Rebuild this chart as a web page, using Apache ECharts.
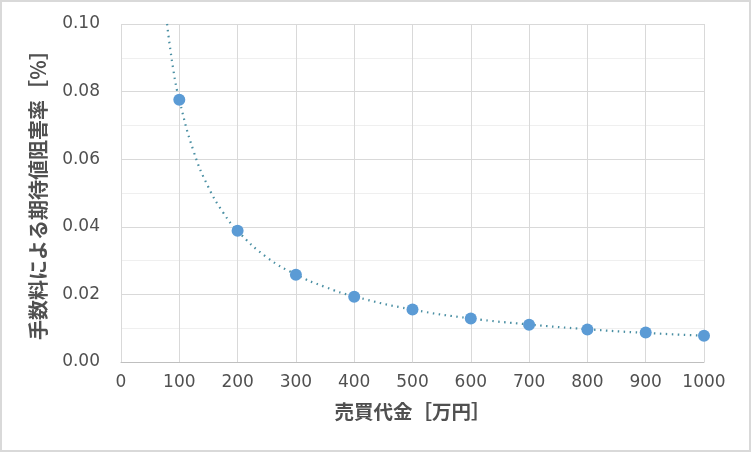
<!DOCTYPE html>
<html><head><meta charset="utf-8">
<script src="https://cdn.jsdelivr.net/npm/echarts@6/dist/echarts.min.js"></script>
<style>html,body{margin:0;padding:0;background:#fff}#c{width:751px;height:452px;box-sizing:border-box;border:2px solid #d9d9d9}</style>
</head><body><div id="c"></div>
<script>
const xValues = [100,200,300,400,500,600,700,800,900,1000];
const yValues = [0.0776,0.0388,0.0258,0.0193,0.0155,0.0129,0.0110,0.0096,0.0087,0.0078];
const trendX = [79,90,100,125,150,175,200,250,300,350,400,500,600,700,800,900,1000];
const trendY = [0.1,0.0862,0.0776,0.0621,0.0517,0.0443,0.0388,0.0310,0.0259,0.0222,0.0194,0.0155,0.0129,0.0111,0.0097,0.0086,0.0078];
const xTitle = '売買代金［万円］';
const yTitle = '手数料による期待値阻害率［％］';

const chart = echarts.init(document.getElementById('c'));
const font = 'Noto Sans CJK JP';
chart.setOption({
  animation:false,
  grid:{left:119,right:45,top:22,bottom:88},
  xAxis:{type:'value',min:0,max:1000,interval:100,
    name:xTitle,nameLocation:'middle',nameGap:40,
    nameTextStyle:{color:'#505050',fontSize:19.5,fontWeight:'bold',fontFamily:font},
    axisLine:{lineStyle:{color:'#bfbfbf'}},axisTick:{show:false},
    axisLabel:{color:'#505050',fontSize:17,fontFamily:'DejaVu Sans',margin:12,formatter:v=>String(v)},
    splitLine:{lineStyle:{color:'#d9d9d9'}}},
  yAxis:{type:'value',min:0,max:0.1,interval:0.02,
    name:yTitle,nameLocation:'middle',nameGap:73,
    nameTextStyle:{color:'#505050',fontSize:20,fontWeight:'bold',fontFamily:font,padding:[0,0,0,6]},
    axisLine:{show:false},axisTick:{show:false},
    axisLabel:{color:'#505050',fontSize:17,fontFamily:'DejaVu Sans',margin:21,formatter:v=>v.toFixed(2)},
    splitLine:{lineStyle:{color:'#d9d9d9'}},
    minorTick:{show:false,splitNumber:2},
    minorSplitLine:{show:true,lineStyle:{color:'#efefef'}}},
  series:[
    {type:'line',data:trendX.map((x,i)=>[x,trendY[i]]),smooth:true,symbol:'none',
     lineStyle:{color:'#4a8fa3',width:2.2,type:[1.5,4.5]},z:2},
    {type:'scatter',data:xValues.map((x,i)=>[x,yValues[i]]),symbolSize:12,
     itemStyle:{color:'#5b9bd5',opacity:1},z:3}
  ]
});
</script></body></html>
